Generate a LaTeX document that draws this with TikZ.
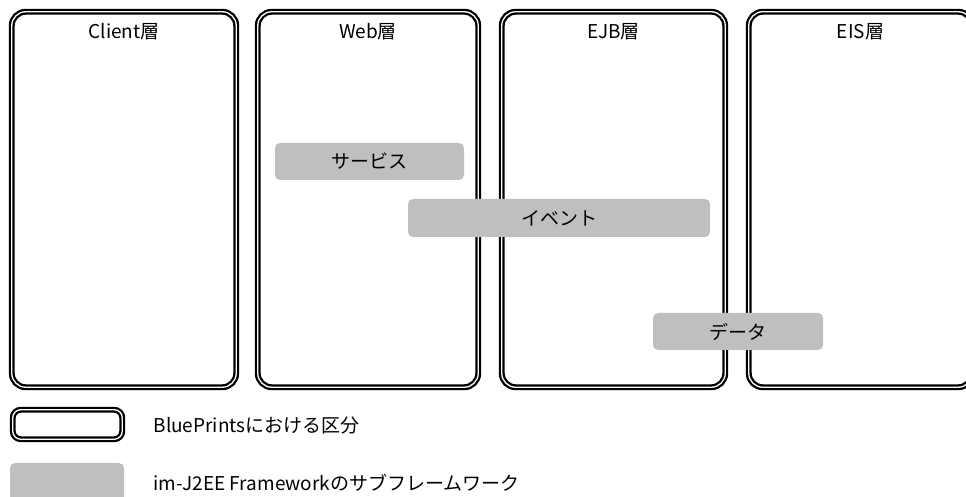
\documentclass[tikz,border=0pt]{standalone}
\usepackage{fontspec}
\setmainfont{Noto Sans CJK JP}
\usetikzlibrary{positioning, calc}

\begin{document}
\begin{tikzpicture}[x=1pt, y=1pt,
	tier/.style={draw, double, double distance=1.3pt, line width=2.3pt, rounded corners=14pt, minimum height=375.5pt},
	sub/.style={fill=black!25, rounded corners=5pt, inner sep=0pt},
	txt/.style={font=\fontsize{19}{22}\selectfont}]
	\useasboundingbox (0,0) rectangle (966,497);
	% tiers
	\node [tier, minimum width=224.5pt] (client) at (124,297.5) {};
	\node [tier, minimum width=220.5pt] (web) at (368,297.5) {};
	\node [tier, minimum width=223.5pt] (ejb) at (613.5,297.5) {};
	\node [tier, minimum width=223.5pt] (eis) at (860.5,297.5) {};
	\node [txt] (clientlbl) at ($(client.north)+(0,-21)$) {Client層};
	\node [txt] (weblbl) at ($(web.north)+(0,-21)$) {Web層};
	\node [txt] (ejblbl) at ($(ejb.north)+(0,-21)$) {EJB層};
	\node [txt] (eislbl) at ($(eis.north)+(0,-21)$) {EIS層};
	% sub frameworks
	\node [sub, txt, minimum width=189pt, minimum height=37pt] (service) at (369.5,335.5) {サービス};
	\node [sub, txt, minimum width=302pt, minimum height=38pt] (event) at (559,279) {イベント};
	\node [sub, txt, minimum width=170pt, minimum height=37pt] (data) at (738,165.5) {データ};
	% legend
	\node [tier, rounded corners=8pt, minimum width=109.5pt, minimum height=29.5pt] (keytier) at (67.5,72.5) {};
	\node [sub, minimum width=114pt, minimum height=42pt] (keysub) at (67,13) {};
	\node [txt, anchor=west] (keytierlbl) at (150,71) {BluePrintsにおける区分};
	\node [txt, anchor=west] (keysublbl) at (150,14) {im-J2EE Frameworkのサブフレームワーク};
\end{tikzpicture}
\end{document}
